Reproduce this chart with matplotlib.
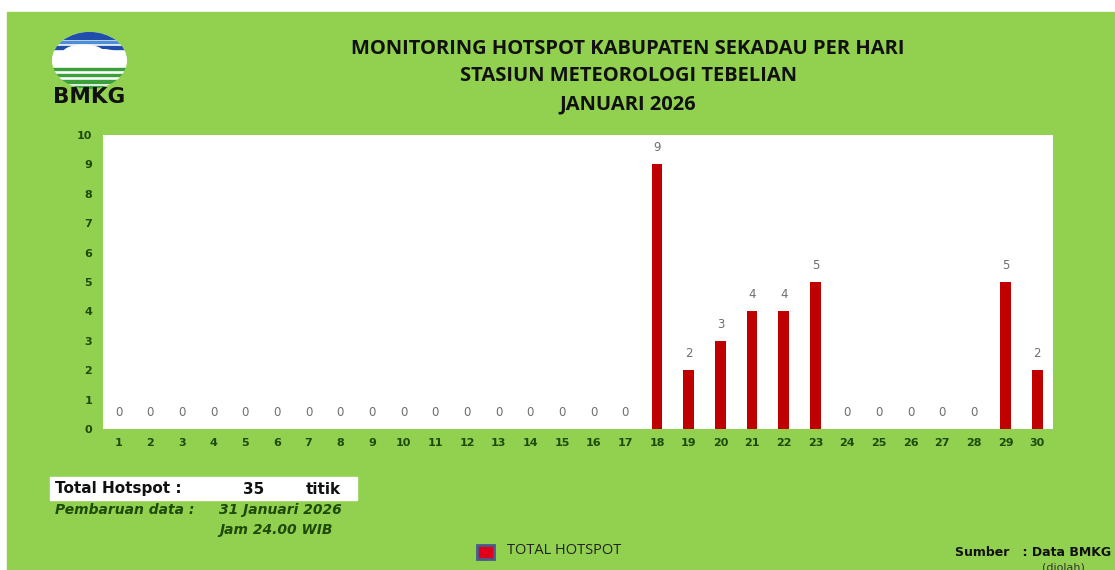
import numpy as np
import matplotlib.pyplot as plt
from matplotlib.patches import Rectangle, Ellipse

# daily hotspot counts, January 2026
days = list(range(1, 31))
hotspots = [0, 0, 0, 0, 0, 0, 0, 0, 0, 0, 0, 0, 0, 0, 0, 0, 0,
            9, 2, 3, 4, 4, 5, 0, 0, 0, 0, 0, 5, 2]
y_ticks = list(range(0, 11))

title_lines = ["MONITORING HOTSPOT KABUPATEN SEKADAU PER HARI",
               "STASIUN METEOROLOGI TEBELIAN",
               "JANUARI 2026"]
total_label = "Total Hotspot :"
total_value = "35"
total_unit = "titik"
update_label = "Pembaruan data :"
update_date = "31 Januari 2026"
update_time = "Jam 24.00 WIB"
legend_label = "TOTAL HOTSPOT"
source_label = "Sumber   : Data BMKG"
source_note = "(diolah)"

W, H = 1115, 570
GREEN = "#92d050"
BAR = "#c00000"
DKGREEN = "#1f4a0a"


def px(x, y):
    """pixel position (top-left origin) -> figure fraction"""
    return x / W, 1 - y / H


fig = plt.figure(figsize=(W / 100, H / 100), dpi=100, facecolor="white")

# green panel, with the thin white margin on top/left
fig.patches.append(Rectangle((7 / W, 0), 1 - 7 / W, 1 - 12 / H,
                             transform=fig.transFigure, color=GREEN, zorder=-5))

# ---- main chart --------------------------------------------------------
l, b = 102.7 / W, 1 - 429 / H
ax = fig.add_axes([l, b, (1053 - 102.7) / W, (429 - 135) / H])
ax.set_facecolor("white")
ax.bar(days, hotspots, width=0.34, color=BAR, zorder=2)
for d, v in zip(days, hotspots):
    ax.annotate(str(v), (d, v), xytext=(0, 12), textcoords="offset points",
                ha="center", va="center", fontsize=8.5, color="#6e6e6e")
ax.set_xlim(0.5, 30.5)
ax.set_ylim(0, 10)
ax.set_xticks(days)
ax.set_xticklabels([str(d) for d in days])
ax.set_yticks(y_ticks)
for s in ax.spines.values():
    s.set_visible(False)
ax.tick_params(length=0, labelsize=8, labelcolor=DKGREEN)
ax.tick_params(axis="x", pad=6.5)
ax.tick_params(axis="y", pad=7.5)
for t in ax.get_xticklabels() + ax.get_yticklabels():
    t.set_fontweight("bold")

# ---- titles ------------------------------------------------------------
for text, yy in zip(title_lines, [49, 76, 104]):
    fig.text(*px(628, yy), text, ha="center", va="center", fontsize=14.5,
             fontweight="bold", family="Open Sans", color="#111111")

# ---- BMKG logo -----------------------------------------------------------
lax = fig.add_axes([52 / W, 1 - 89 / H, 75 / W, 57 / H])
lax.set_xlim(0, 1)
lax.set_ylim(0, 1)
lax.axis("off")
clip = Ellipse((0.5, 0.5), 1, 1, transform=lax.transAxes, fc="none", ec="none")
lax.add_patch(clip)
lax.add_patch(Rectangle((0, 0), 1, 1, color="white", clip_path=clip))
bands = [(0.88, 0.12, "#1f4fa8"), (0.80, 0.05, "#4a8fd8"), (0.70, 0.06, "#1f4fa8"),
         (0.33, 0.04, "#3aa03a"), (0.22, 0.05, "#3aa03a"), (0.11, 0.05, "#3aa03a"),
         (0.0, 0.06, "#3aa03a")]
for y0, h, c in bands:
    lax.add_patch(Rectangle((0, y0), 1, h, color=c, clip_path=clip))
# white cloud over the blue stripes
lax.add_patch(Ellipse((0.42, 0.62), 0.55, 0.3, color="white", clip_path=clip))
lax.add_patch(Ellipse((0.68, 0.58), 0.4, 0.22, color="white", clip_path=clip))
fig.text(*px(89, 97), "BMKG", ha="center", va="center", fontsize=15.5,
         fontweight="bold", family="DejaVu Sans", color="#111111")

# ---- total / update box ------------------------------------------------
fig.patches.append(Rectangle(px(50, 500), 307 / W, 23 / H,
                             transform=fig.transFigure, color="white", zorder=1))
fig.text(*px(55, 489), total_label, va="center", fontsize=11, fontweight="bold",
         color="#111111")
fig.text(*px(254, 489), total_value, ha="center", va="center", fontsize=11,
         fontweight="bold", color="#111111")
fig.text(*px(323, 489), total_unit, ha="center", va="center", fontsize=11,
         fontweight="bold", color="#111111")
fig.text(*px(55, 510), update_label, va="center", fontsize=10, fontweight="bold",
         style="italic", color=DKGREEN)
fig.text(*px(219, 510), update_date, va="center", fontsize=10, fontweight="bold",
         style="italic", color=DKGREEN)
fig.text(*px(219, 530), update_time, va="center", fontsize=10, fontweight="bold",
         style="italic", color=DKGREEN)

# ---- legend & source -----------------------------------------------------
fig.patches.append(Rectangle(px(477, 559), 17 / W, 14 / H, transform=fig.transFigure,
                             fc="#e0001b", ec="#4a5a8a", lw=2, zorder=1))
fig.text(*px(507, 550), legend_label, va="center", fontsize=10.5, family="Open Sans",
         color="#222222")
fig.text(*px(955, 552), source_label, va="center", fontsize=9, fontweight="bold",
         color="#111111")
fig.text(*px(1063, 567), source_note, ha="center", va="center", fontsize=8,
         color="#333333")

fig.savefig("out.png", dpi=100, facecolor=fig.get_facecolor())
